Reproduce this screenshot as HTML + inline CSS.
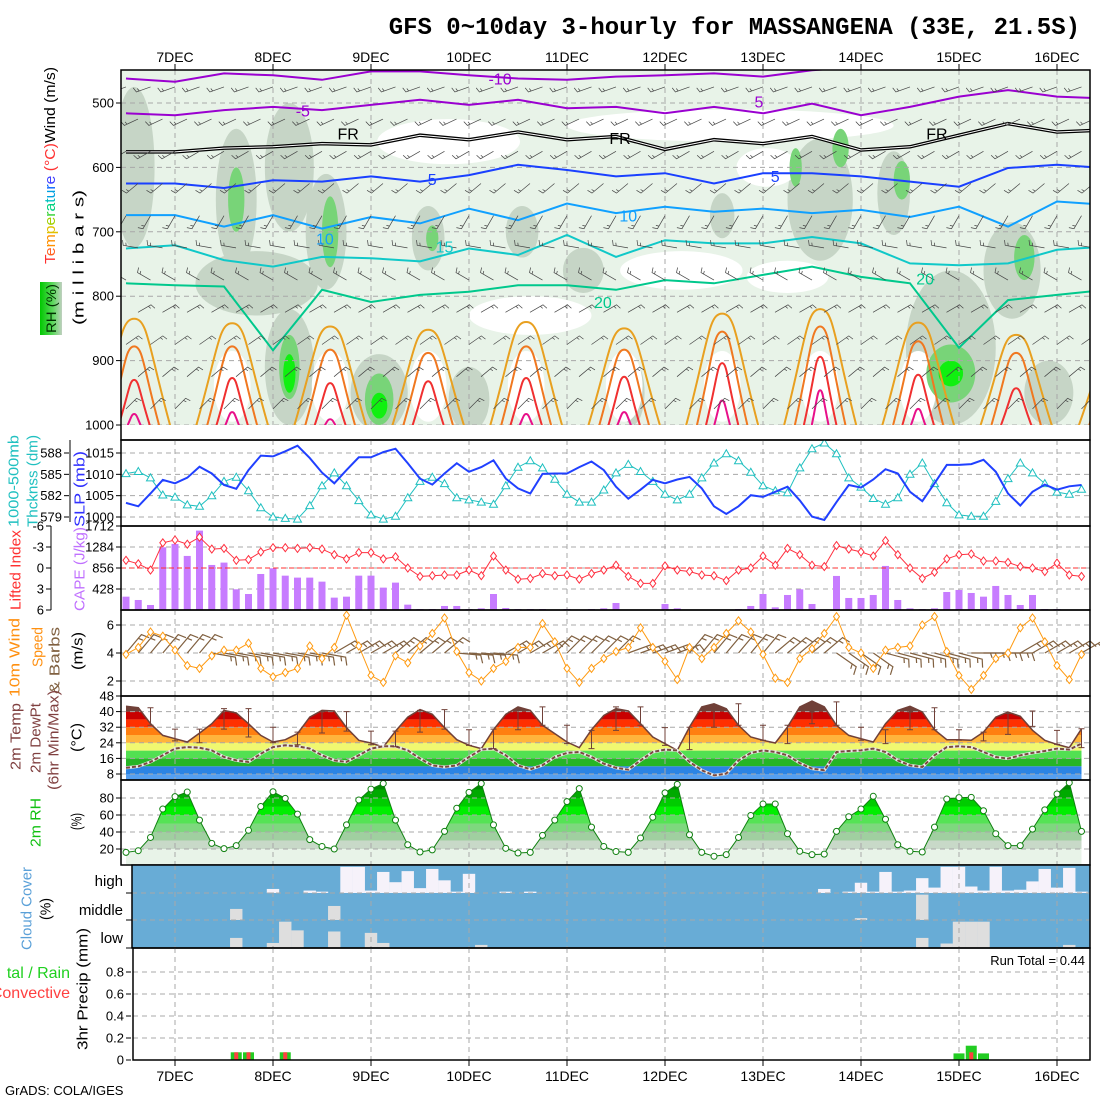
<!DOCTYPE html>
<html><head><meta charset="utf-8"><title>GFS meteogram MASSANGENA</title>
<style>
html,body{margin:0;padding:0;background:#fff;}
svg{display:block;font-family:"Liberation Sans",sans-serif;}
.tk{font-size:13px;fill:#000;}
.dt{font-size:14px;fill:#000;}
</style></head>
<body>
<svg id="chart" width="1100" height="1100" viewBox="0 0 1100 1100" xmlns="http://www.w3.org/2000/svg">
<defs>
<clipPath id="c1"><rect x="121" y="70" width="969" height="355"/></clipPath>
<clipPath id="c2"><rect x="121" y="440" width="969" height="86"/></clipPath>
<clipPath id="c5"><rect x="121" y="696" width="969" height="84"/></clipPath>
<clipPath id="c6"><rect x="121" y="780" width="969" height="85"/></clipPath>
<clipPath id="c7"><rect x="132" y="865" width="958" height="83"/></clipPath>
<linearGradient id="rhg" x1="0" y1="0" x2="1" y2="0"><stop offset="0" stop-color="#00c800"/><stop offset="0.6" stop-color="#60d860"/><stop offset="1" stop-color="#c0d0c0"/></linearGradient>
</defs>
<text x="1080" y="34" text-anchor="end" style="font-family:'Liberation Mono',monospace;font-weight:bold;font-size:24px;">GFS 0~10day 3-hourly for MASSANGENA (33E, 21.5S)</text>

<text transform="translate(50,264) rotate(-90)" dominant-baseline="central" font-size="15" textLength="197" lengthAdjust="spacingAndGlyphs"><tspan fill="#ff3030">T</tspan><tspan fill="#ff6020">e</tspan><tspan fill="#ff9000">m</tspan><tspan fill="#e0c000">p</tspan><tspan fill="#a0d000">e</tspan><tspan fill="#30d030">r</tspan><tspan fill="#00d080">a</tspan><tspan fill="#00c0c0">t</tspan><tspan fill="#00a0e0">u</tspan><tspan fill="#0060ff">r</tspan><tspan fill="#4040ff">e</tspan><tspan fill="#ff3030"> (°C)</tspan><tspan fill="#000">Wind (m/s)</tspan></text>
<text transform="translate(79,325) rotate(-90)" dominant-baseline="central" font-size="15" textLength="135" lengthAdjust="spacingAndGlyphs">(m i l l i b a r s)</text>
<rect x="40" y="282" width="22" height="53" fill="url(#rhg)"/>
<text transform="translate(51,333) rotate(-90)" dominant-baseline="central" font-size="14" fill="#003000" textLength="49" lengthAdjust="spacingAndGlyphs">RH (%)</text>

<text transform="translate(14,527) rotate(-90)" dominant-baseline="central" font-size="15" fill="#20c0c0" textLength="92" lengthAdjust="spacingAndGlyphs">1000-500mb</text>
<text transform="translate(33,527) rotate(-90)" dominant-baseline="central" font-size="15" fill="#20c0c0" textLength="92" lengthAdjust="spacingAndGlyphs">Thcknss (dm)</text>
<text transform="translate(80,527) rotate(-90)" dominant-baseline="central" font-size="15" fill="#3030ff" textLength="76" lengthAdjust="spacingAndGlyphs">SLP (mb)</text>
<text transform="translate(16,610) rotate(-90)" dominant-baseline="central" font-size="15" fill="#ff3030" textLength="80" lengthAdjust="spacingAndGlyphs">Lifted Index</text>
<text transform="translate(80,611) rotate(-90)" dominant-baseline="central" font-size="15" fill="#c070ff" textLength="84" lengthAdjust="spacingAndGlyphs">CAPE (J/kg)</text>
<text transform="translate(15,697) rotate(-90)" dominant-baseline="central" font-size="15" fill="#ff9010" textLength="79" lengthAdjust="spacingAndGlyphs">10m Wind</text>
<text transform="translate(38,667) rotate(-90)" dominant-baseline="central" font-size="15" fill="#ff9010" textLength="40" lengthAdjust="spacingAndGlyphs">Speed</text>
<text transform="translate(55,694) rotate(-90)" dominant-baseline="central" font-size="15" fill="#806040" textLength="67" lengthAdjust="spacingAndGlyphs">&amp; Barbs</text>
<text transform="translate(78,670) rotate(-90)" dominant-baseline="central" font-size="15" textLength="38" lengthAdjust="spacingAndGlyphs">(m/s)</text>
<text transform="translate(16,770) rotate(-90)" dominant-baseline="central" font-size="15" fill="#804040" textLength="67" lengthAdjust="spacingAndGlyphs">2m Temp</text>
<text transform="translate(36,773) rotate(-90)" dominant-baseline="central" font-size="15" fill="#804040" textLength="70" lengthAdjust="spacingAndGlyphs">2m DewPt</text>
<text transform="translate(54,790) rotate(-90)" dominant-baseline="central" font-size="15" fill="#804040" textLength="100" lengthAdjust="spacingAndGlyphs">(6hr Min/Max)</text>
<text transform="translate(77,752) rotate(-90)" dominant-baseline="central" font-size="15" textLength="29" lengthAdjust="spacingAndGlyphs">(°C)</text>
<text transform="translate(36,847) rotate(-90)" dominant-baseline="central" font-size="15" fill="#10c010" textLength="49" lengthAdjust="spacingAndGlyphs">2m RH</text>
<text transform="translate(77,830) rotate(-90)" dominant-baseline="central" font-size="15" textLength="17" lengthAdjust="spacingAndGlyphs">(%)</text>
<text transform="translate(27,950) rotate(-90)" dominant-baseline="central" font-size="15" fill="#5aa0d8" textLength="83" lengthAdjust="spacingAndGlyphs">Cloud Cover</text>
<text transform="translate(46,920) rotate(-90)" dominant-baseline="central" font-size="15" textLength="22" lengthAdjust="spacingAndGlyphs">(%)</text>
<text x="123" y="886" text-anchor="end" font-size="15">high</text>
<text x="123" y="915" text-anchor="end" font-size="15">middle</text>
<text x="123" y="943" text-anchor="end" font-size="15">low</text>
<text x="70" y="978" text-anchor="end" font-size="16" fill="#20d020">tal / Rain</text>
<text x="70" y="998" text-anchor="end" font-size="16" fill="#ff4040">Convective</text>
<text transform="translate(83,1050) rotate(-90)" dominant-baseline="central" font-size="15" textLength="122" lengthAdjust="spacingAndGlyphs">3hr Precip (mm)</text>
<text x="1085" y="965" text-anchor="end" font-size="13">Run Total = 0.44</text>
<text x="5" y="1095" font-size="13">GrADS: COLA/IGES</text>

<g id="layer"></g>
</svg>
<script>
// ---------- data ----------
const slp = [1003.3,1002.5,1005.5,1008.7,1007.9,1009.2,1011.8,1010.2,1007.5,1006.6,1011,1014.4,1014.2,1015.4,1016.7,1013.8,1010.4,1007.9,1011,1014,1014,1015.2,1016,1012.6,1009,1007.6,1010.2,1012.6,1010.6,1011.7,1013.3,1009,1006.7,1005.5,1010.1,
1010.2,1010.2,1011.7,1013,1011,1007.1,1004.3,1006.4,1008.7,1007.9,1008.8,1009.4,1006.7,1002.5,1000.7,1002.5,1005.1,1004.7,1005.9,1007.1,1003.9,1000.1,999.3,1003.5,1007.5,1006.9,1008.8,1011.2,1010.2,1005.9,1003.7,1007.9,1012.2,1012.2,1012.4,1013.4,1010.6,1005.5,1002.7,1005.9,1007.6,1006.4,1007.2,1007.5];
const thickness = [585.1,585.4,584.5,582.1,581.8,580.7,580.5,582,584,584.6,582.7,580.3,579,578.8,578.7,580.6,583.4,585.2,583.4,581.3,579.3,578.7,579.1,581.7,584,584.6,583.7,581.7,581.4,581.1,580.8,583.4,586,586.9,585.9,
584.3,582.2,581.1,581.1,582.8,585.2,586.4,585.4,584,582.2,581.4,582.2,584.5,586.6,587.9,586.9,585.3,583.4,582.7,582.4,585.9,588.6,589.4,587.9,584.5,583.2,581.6,580.8,581.7,585,586.6,583.7,581,579.3,579.1,579.1,581.2,584.4,586.6,585.2,583.7,582.5,582.2,582.9];
const cape = [272,204,102,1278,1346,1102,1618,918,966,422,326,734,850,700,660,660,578,252,272,700,700,456,558,109,20,20,82,82,20,34,326,41,20,20,20,
0,20,0,20,34,143,0,0,0,122,34,0,0,0,0,20,82,326,54,306,422,122,0,694,245,245,306,898,204,34,20,34,367,408,347,272,490,306,102,306,20,20,0,0];
const liftedIndex = [-1.1,-0.6,0.3,-3.6,-4,-3.4,-4.4,-2.7,-2.8,-1.1,-1.2,-2.3,-2.9,-2.9,-2.8,-2.9,-2.7,-1.9,-1.3,-2.2,-2.2,-1.3,-1.6,0,1.2,1.1,1,1,0.3,1.1,-1.7,0.3,1.6,1.5,0.8,
1.1,1,1.6,0.8,0.3,-0.4,1.2,2.2,2.2,-0.3,0.3,0.5,1,1.1,1.8,0.3,0,-1.7,-0.4,-2.8,-1.9,-0.4,-0.2,-3.2,-2.7,-2.3,-1.7,-3.9,-1.9,0,1.5,0.6,-1.3,-1.9,-2,-1,-1,-0.8,-0.2,0,0.5,-0.7,1,1.2];
const windSpeed = [3.9,4.4,5.5,5.2,4.2,3.1,2.9,3.8,4.2,4.2,4.7,2.9,2.3,2.6,2.9,4.5,3.6,4.4,6.7,4.5,2.4,1.9,3.8,3.3,4.5,5.4,6.5,4.1,2.6,2,2.9,3.4,4.4,4.4,6.1,
4.8,2.9,1.9,2.9,3.6,4.1,4.4,5.8,4.4,3.4,2.1,4.4,3.6,4.4,5.4,6.3,5.5,3.9,2.2,1.9,3.6,4.3,5.4,6.6,4.4,4,2.9,4.2,4.4,4.5,6,6.6,4.1,2.4,1.4,2.4,3.6,4,5.8,6.5,4.8,3.1,2.1,3.9];
const windDir = [40,40,40,40,40,40,40,100,100,100,100,100,100,100,100,100,100,60,60,60,60,60,50,50,50,50,50,95,95,95,95,60,60,60,60,
45,45,45,45,45,45,70,70,70,70,70,40,40,40,40,40,40,40,50,50,50,50,50,125,125,125,125,105,105,105,105,105,105,105,90,90,90,90,60,60,60,60,60,60];
const temp2m = [42.7,42,33.8,27.8,26.1,24.4,29,33.8,40.6,39.3,33.8,27.8,24.4,25.6,28.7,37.2,40.6,40.3,31.8,25.3,23.9,21.8,30,37.2,41,38.6,31.8,25.6,22.7,21,30.7,38.6,42.4,40.6,33,
28.7,24.4,21.5,30.7,38,41.5,40.3,33.8,27,23.6,20.1,32.1,42.4,44,41.5,33,27,25.3,23.9,32.1,42.4,45.4,42.4,33,27.8,26.1,24.4,33.8,40.6,42.7,39.8,30.7,25.6,25.6,25.3,29.5,37.2,39.8,37.6,30.4,25.3,23.2,21.5,31.2];
const dew2m = [11.2,11.9,14.2,17.6,21,21.8,21.5,20.1,16.7,15,14.2,18.4,21.8,22.7,22.2,21,17.6,15,14.2,17.6,21,22.2,22.2,20.1,15.9,12.4,11.6,12.4,16.7,20.5,21,17.6,12.4,10.4,12.5,
16.7,18.8,19.3,16.7,13.3,11.2,10.2,15,19.3,20.5,20.1,14.2,9.9,7.3,8.2,15,18.8,20.1,19.3,17.6,13.6,10.7,9.9,19.3,19.8,20.1,21,19.3,15,12.4,11.6,17.6,21.8,22.2,21.8,19.3,16.7,15.9,17.6,18.8,19.8,21,20.5,23.6];
const tMax6 = [42,31,31,41.5,41.5,32,29.5,40,40,30,30,40.6,41,30.7,31,41,42.4,33,30.4,42.4,42.4,31.8,32,41.5,44,33,33,39.8,45,32,30.7,39.8,42,30.7,29.5,39,40.3,30.4,31.2];
const tMin6 = [33,25,24,31,27,24,23,29,30,23,22,29.5,31,22.7,21,30.7,33,23.6,21,30.4,33,22.7,20.5,32,33,25.3,23.6,33.8,33,25.3,23.6,30.7,30.7,25.3,25,28.3,32.4,23.2,21.5];
const rh2m = [16,18,33.6,67,81.6,87,54,26.6,20.4,24,42,70,87.4,79.6,61,31,23,20,48.4,77.7,90.5,97,54,25,16.5,19,40.7,68,86.6,97,48.4,20.8,15.3,16,36,
54,75.7,91,45.7,23,17,16,33,57.4,86,96,36.8,16,11.4,13.4,33.6,59.4,73,73,38,17.3,13.4,14,40.7,58,67,82,55,25,17.3,16.5,45.7,78.8,80.4,80.8,65,38,24,24,43.4,66,84.7,98,40.7];
const cloudHigh = [0,0,0,0,0,0,0,0,0,0, 0,0,15,0,0,9,5,0,97,97, 9,78,40,81,18,89,47,5,71,0, 0,5,0,5,0,0,0,0,0,0, 0,0,0,0,0,0,0,0,0,0, 0,0,0,0,0,0,0,15,0,5, 38,5,78,5,9,55,20,97,97,24, 9,97,9,12,43,89,20,93,5];
const cloudMid = [0,0,0,0,0,0,0,0,0,41, 0,0,0,0,0,0,0,52,0,0, 0,0,0,0,0,0,0,0,0,0, 0,0,0,0,0,0,0,0,0,0, 0,0,0,0,0,0,0,0,0,0, 0,0,0,0,0,0,0,0,0,0, 7,0,0,0,0,94,0,0,0,0, 0,0,0,0,0,0,0,0,0];
const cloudLow = [0,0,0,0,0,0,0,0,0,36, 0,0,18,94,63,0,0,59,0,0, 54,18,0,0,0,0,0,0,0,11, 0,0,0,0,0,0,0,0,0,0, 0,0,0,0,0,0,0,0,0,0, 0,0,0,0,0,0,0,0,0,0, 0,0,0,0,0,36,0,16,94,94, 94,0,0,0,0,0,0,11,0];
const precipTotal = [0,0,0,0,0,0,0,0,0,0.07, 0.07,0,0,0.07,0,0,0,0,0,0, 0,0,0,0,0,0,0,0,0,0, 0,0,0,0,0,0,0,0,0,0, 0,0,0,0,0,0,0,0,0,0, 0,0,0,0,0,0,0,0,0,0, 0,0,0,0,0,0,0,0,0.06,0.13, 0.06,0,0,0,0,0,0,0,0];
const precipConv = [0,0,0,0,0,0,0,0,0,0.07, 0.07,0,0,0.07,0,0,0,0,0,0, 0,0,0,0,0,0,0,0,0,0, 0,0,0,0,0,0,0,0,0,0, 0,0,0,0,0,0,0,0,0,0, 0,0,0,0,0,0,0,0,0,0, 0,0,0,0,0,0,0,0,0,0.07, 0,0,0,0,0,0,0,0,0];
const isoM10 = [462,467,454,457,464,451,451,457,462,464,459,457,454,459,449,444,444,444,444,444,444];
const isoM5 = [516,519,511,506,511,503,495,503,495,508,506,516,506,516,501,519,506,490,480,490,493];
const isoFR = [576,576,570,568,563,565,550,557,545,557,552,572,557,563,552,573,568,550,532,545,542];
const iso5 = [625,625,632,620,622,614,622,612,596,604,614,609,625,609,609,614,622,630,601,596,601];
const iso10 = [674,674,692,674,695,677,687,664,682,656,671,661,669,664,671,666,677,661,692,653,658];
const iso15 = [726,721,744,754,739,741,746,726,736,705,739,713,718,718,708,718,749,752,749,728,723];
const iso20 = [780,783,785,884,790,809,798,793,783,783,790,775,780,767,754,770,780,880,806,798,790];
const iso25Peak = [835,842,847,852,840,850,827,820,841,860,877];
const iso30Peak = [878,878,883,888,878,883,855,847,870,888,883];
const iso35Peak = [930,927,935,932,927,925,904,894,922,943,1000];
const iso40Peak = [983,980,991,1000,983,980,962,946,975,1000,1000];
const rhBlobs = [[-10,600,10,250,1],[15,650,10,220,1],[28,600,12,200,1],[20,780,30,100,1],[28,910,12,180,1],[37,700,10,180,1],[50,950,14,120,1],[62,710,8,100,1],[72,960,10,100,1],[85,700,8,80,1],[100,760,10,70,1],[112,950,6,100,1],[134,675,6,70,1],[158,650,16,190,1],[176,640,8,130,1],[190,880,22,240,1],[205,760,14,150,1],[214,950,12,100,1],
[67,560,35,70,0],[136,535,80,50,0],[87,830,30,60,0],[124,760,30,60,0],[150,770,20,50,0],[145,600,15,60,0],
[14,940,9,110,0],[38,940,9,110,0],[62,940,9,110,0],[86,940,9,110,0],[110,940,9,110,0],[134,940,9,110,0],[158,940,9,110,0],[182,940,9,110,0],
[15,650,4,100,2],[28,910,5,100,2],[38,700,4,110,2],[50,960,7,80,2],[63,710,3,40,2],[152,600,3,60,2],[163,570,4,60,2],[178,620,4,60,2],[190,920,12,90,2],[208,740,5,70,2],
[28,920,3,60,3],[50,970,4,40,3],[190,920,6,40,3]];
const isoLabels = [[79.6,464,'-10','#9a00d0'],[31.3,514,'-5','#9a00d0'],[143,500,'5','#9a00d0'],[42.4,550,'FR','#000'],[109,557,'FR','#000'],[186.6,550,'FR','#000'],[63,620,'5','#1a40ff'],[147,616,'5','#1a40ff'],[36.7,713,'10','#10a0ff'],[111,677,'10','#10a0ff'],[66,725,'15','#10c8c8'],[104.8,811,'20','#00c88c'],[183.7,775,'20','#00c88c']];
const upLevels = [475,525,575,625,675,725,775,825,875,925,975];
const upDirs = [250,245,240,230,210,280,300,60,55,50,45];
const dayLabels = ['7DEC','8DEC','9DEC','10DEC','11DEC','12DEC','13DEC','14DEC','15DEC','16DEC'];

// ---------- axes ----------
const xH = h => 175 + h * 98 / 24;
const xI = i => xH(-12 + 3 * i);
const yP = p => 103 + (p - 500) * 0.644;
const ySLP = v => 517 - (v - 1000) * 64 / 15;
const yThk = v => 517 - (v - 579) * 64 / 9;
const yCape = v => 610 - v * 84 / 1712;
const yLI = v => 568 + v * 7;
const yWs = v => 709 - v * 14;
const yT = v => 789.6 - v * 1.95;
const yRH = v => 866 - v * 0.85;
const yPr = v => 1060 - v * 110;

const NS = 'http://www.w3.org/2000/svg';
const root = document.getElementById('layer');
function mk(parent, tag, attrs) {
  const e = document.createElementNS(NS, tag);
  for (const k in attrs) e.setAttribute(k, attrs[k]);
  parent.appendChild(e);
  return e;
}
function group(name, clip) {
  const g = mk(root, 'g', clip ? {'clip-path': 'url(#' + clip + ')'} : {});
  
  
  return g;
}
function poly(points) { return points.map(p => p[0].toFixed(1) + ',' + p[1].toFixed(1)).join(' '); }
function dayGrid(g, y0, y1) {
  for (let d = 0; d < dayLabels.length; d++) {
    const l = mk(g, 'line', {x1: xH(24 * d), x2: xH(24 * d), y1: y0, y2: y1, stroke: '#a8a8a8', 'stroke-dasharray': '5,4', 'stroke-width': 1});
    
    
  }
}
function hGrid(g, ys, x0) {
  ys.forEach(y => {
    const l = mk(g, 'line', {x1: x0 || 121, x2: 1090, y1: y, y2: y, stroke: '#a8a8a8', 'stroke-dasharray': '5,4', 'stroke-width': 1});
    
    
  });
}
function tickLabels(g, vals, yf, xr, name) {
  vals.forEach(v => {
    const t = mk(g, 'text', {x: xr, y: yf(v), 'text-anchor': 'end', 'dominant-baseline': 'central', class: 'tk'});
    t.textContent = String(v);
    
    
    const tk = mk(g, 'line', {x1: xr + 2, x2: xr + 7, y1: yf(v), y2: yf(v), stroke: '#000'});
    
    
  });
}
function frame(g, x0, y0, x1, y1) {
  const r = mk(g, 'rect', {x: x0, y: y0, width: x1 - x0, height: y1 - y0, fill: 'none', stroke: '#000', 'stroke-width': 1.5});
  
  
}
function barb(g, x, y, dir, len, color, w) {
  const r = dir * Math.PI / 180;
  const ex = x + len * Math.sin(r), ey = y - len * Math.cos(r);
  const fr = r + Math.PI / 2.5, fl = len * 0.35;
  let d = 'M' + x.toFixed(1) + ' ' + y.toFixed(1) + 'L' + ex.toFixed(1) + ' ' + ey.toFixed(1);
  d += 'l' + (fl * Math.sin(fr)).toFixed(1) + ' ' + (-fl * Math.cos(fr)).toFixed(1);
  const mx = x + len * 0.8 * Math.sin(r), my = y - len * 0.8 * Math.cos(r);
  d += 'M' + mx.toFixed(1) + ' ' + my.toFixed(1) + 'l' + (fl * 0.6 * Math.sin(fr)).toFixed(1) + ' ' + (-fl * 0.6 * Math.cos(fr)).toFixed(1);
  const p = mk(g, 'path', {d: d, stroke: color, 'stroke-width': w, fill: 'none'});
  
  
}

// ---------- date labels ----------
const gd = group('date-axis');
dayLabels.forEach((s, d) => {
  [57, 1076].forEach(y => {
    const t = mk(gd, 'text', {x: xH(24 * d), y: y, 'text-anchor': 'middle', 'dominant-baseline': 'central', class: 'dt'});
    t.textContent = s;
    
    
  });
  const t1 = mk(gd, 'line', {x1: xH(24 * d), x2: xH(24 * d), y1: 64, y2: 70, stroke: '#000'});
  
  
  const t2 = mk(gd, 'line', {x1: xH(24 * d), x2: xH(24 * d), y1: 1060, y2: 1066, stroke: '#000'});
  
  
});

// ---------- panel 1 ----------
const g1 = group('upper-air-panel', 'c1');
const bg1 = mk(g1, 'rect', {x: 121, y: 70, width: 969, height: 355, fill: '#e8f3e8'});


const blobCol = ['#ffffff', '#c6d5c6', '#78d478', '#10f010'];
rhBlobs.forEach(b => {
  const e = mk(g1, 'ellipse', {cx: xH(b[0]), cy: yP(b[1]), rx: b[2] * 98 / 48, ry: b[3] * 0.644 / 2, fill: blobCol[b[4]]});
  
  
});
dayGrid(g1, 70, 425);
hGrid(g1, [500, 600, 700, 800, 900, 1000].map(yP));
function isoLine(arr, color, name, dbl) {
  const pts = arr.map((p, k) => [xH(-12 + 12 * k), yP(p)]);
  if (dbl) {
    const o = mk(g1, 'polyline', {points: poly(pts), fill: 'none', stroke: '#000', 'stroke-width': 3.5});
    
    
    const inn = mk(g1, 'polyline', {points: poly(pts), fill: 'none', stroke: '#fff', 'stroke-width': 1});
    
    
  } else {
    const l = mk(g1, 'polyline', {points: poly(pts), fill: 'none', stroke: color, 'stroke-width': 2});
    
    
  }
}
isoLine(isoM10, '#9a00d0', 'isotherm-minus10');
isoLine(isoM5, '#9a00d0', 'isotherm-minus5');
isoLine(isoFR, '#000', 'freezing-level', true);
isoLine(iso5, '#1a40ff', 'isotherm-5');
isoLine(iso10, '#10a0ff', 'isotherm-10');
isoLine(iso15, '#10c8c8', 'isotherm-15');
isoLine(iso20, '#00c88c', 'isotherm-20');
function isoArches(arr, color, hw, tw, name) {
  arr.forEach((p, d) => {
    if (p >= 1000) return;
    const x = xH(14 + 24 * (d - 1)), yp = yP(p), yb = yP(1012);
    const ym = yp + (yb - yp) * 0.25;
    const dd = 'M' + (x - hw) + ' ' + yb + ' C' + (x - tw) + ' ' + ym + ',' + (x - tw) + ' ' + yp + ',' + x + ' ' + yp +
      ' C' + (x + tw) + ' ' + yp + ',' + (x + tw) + ' ' + ym + ',' + (x + hw) + ' ' + yb;
    const e = mk(g1, 'path', {d: dd, fill: 'none', stroke: color, 'stroke-width': 2});
    
    
  });
}
isoArches(iso25Peak, '#e8a020', 38, 14, 'isotherm-25');
isoArches(iso30Peak, '#f07820', 27, 9, 'isotherm-30');
isoArches(iso35Peak, '#f03030', 18, 5, 'isotherm-35');
isoArches(iso40Peak, '#e8108a', 10, 3, 'isotherm-40');
for (let i = 0; i < 79; i += 2) {
  upLevels.forEach((p, j) => {
    barb(g1, xI(i) + ((j % 2) ? 12 : 0), yP(p), upDirs[j], 15, '#444', 0.7);
  });
}
isoLabels.forEach(l => {
  const t = mk(g1, 'text', {x: xH(l[0]), y: yP(l[1]), 'text-anchor': 'middle', 'dominant-baseline': 'central', 'font-size': 16, fill: l[3]});
  t.textContent = l[2];
  
  
});
const ga1 = group('pressure-axis');
tickLabels(ga1, [500, 600, 700, 800, 900, 1000], yP, 114, 'pressure-tick-label');
frame(ga1, 121, 70, 1090, 440);

// ---------- panel 2 ----------
const g2 = group('slp-thickness-panel', 'c2');
dayGrid(g2, 440, 526);
hGrid(g2, [1015, 1010, 1005, 1000].map(ySLP));
const thk = mk(g2, 'polyline', {points: poly(thickness.map((v, i) => [xI(i), yThk(v)])), fill: 'none', stroke: '#20c0c0', 'stroke-width': 1});


thickness.forEach((v, i) => {
  const x = xI(i), y = yThk(v);
  const m = mk(g2, 'polygon', {points: poly([[x, y - 4], [x - 4, y + 3], [x + 4, y + 3]]), fill: '#fff', stroke: '#20c0c0', 'stroke-width': 1});
  
  
});
const sl = mk(g2, 'polyline', {points: poly(slp.map((v, i) => [xI(i), ySLP(v)])), fill: 'none', stroke: '#2040ff', 'stroke-width': 2});


const ga2 = group('slp-axes');
tickLabels(ga2, [588, 585, 582, 579], yThk, 62, 'thickness-tick-label');
tickLabels(ga2, [1015, 1010, 1005, 1000], ySLP, 114, 'slp-tick-label');
const ax2 = mk(ga2, 'line', {x1: 70, x2: 70, y1: 440, y2: 522, stroke: '#000'});


frame(ga2, 121, 440, 1090, 526);

// ---------- panel 3 ----------
const g3 = group('cape-li-panel');
dayGrid(g3, 526, 610);
hGrid(g3, [1284, 856, 428].map(yCape));
cape.forEach((v, i) => {
  if (v <= 0) return;
  const r = mk(g3, 'rect', {x: xI(i) - 3.5, y: yCape(v), width: 7, height: 610 - yCape(v), fill: '#c77cff'});
  
  
});
const zl = mk(g3, 'line', {x1: 121, x2: 1090, y1: yLI(0), y2: yLI(0), stroke: '#ff3030', 'stroke-dasharray': '5,3'});


const li = mk(g3, 'polyline', {points: poly(liftedIndex.map((v, i) => [xI(i), yLI(v)])), fill: 'none', stroke: '#ff3040', 'stroke-width': 1});


liftedIndex.forEach((v, i) => {
  const x = xI(i), y = yLI(v);
  const m = mk(g3, 'polygon', {points: poly([[x, y - 4], [x + 3, y], [x, y + 4], [x - 3, y]]), fill: '#fff', stroke: '#ff3040'});
  
  
});
tickLabels(g3, [-6, -3, 0, 3, 6], yLI, 44, 'li-tick-label');
tickLabels(g3, [1712, 1284, 856, 428], yCape, 114, 'cape-tick-label');
const ax3 = mk(g3, 'line', {x1: 51, x2: 51, y1: 526, y2: 610, stroke: '#000'});


frame(g3, 121, 526, 1090, 610);

// ---------- panel 4 ----------
const g4 = group('wind-panel');
dayGrid(g4, 610, 696);
hGrid(g4, [6, 4, 2].map(yWs));
windDir.forEach((d, i) => barb(g4, xI(i), yWs(4), d, 24, '#806040', 1.2));
const ws = mk(g4, 'polyline', {points: poly(windSpeed.map((v, i) => [xI(i), yWs(v)])), fill: 'none', stroke: '#ff9a10', 'stroke-width': 1});


windSpeed.forEach((v, i) => {
  const x = xI(i), y = yWs(v);
  const m = mk(g4, 'polygon', {points: poly([[x, y - 4], [x + 3, y], [x, y + 4], [x - 3, y]]), fill: '#fff', stroke: '#ff9a10'});
  
  
});
tickLabels(g4, [6, 4, 2], yWs, 114, 'wind-tick-label');
frame(g4, 121, 610, 1090, 696);

// ---------- panel 5 ----------
const g5 = group('temperature-panel', 'c5');
const tArea = [[xI(0), 780]].concat(temp2m.map((v, i) => [xI(i), yT(v)])).concat([[xI(temp2m.length - 1), 780]]);
const cp = mk(root, 'clipPath', {id: 'tclip'});
const cpp = mk(cp, 'polygon', {points: poly(tArea)});


const tBands = [[-10, 8, '#559ff0'], [8, 12, '#2b84e4'], [12, 16, '#26b526'], [16, 20, '#52e052'], [20, 24, '#f0f870'], [24, 28, '#ffb43c'], [28, 32, '#ff7f10'], [32, 36, '#ff3000'], [36, 40, '#c80000'], [40, 60, '#704038']];
const tb = mk(g5, 'g', {'clip-path': 'url(#tclip)'});


tBands.forEach(b => {
  const r = mk(tb, 'rect', {x: 121, y: yT(b[1]), width: 969, height: yT(b[0]) - yT(b[1]), fill: b[2]});
  
  
});
dayGrid(g5, 696, 780);
hGrid(g5, [48, 40, 32, 24, 16, 8].map(yT));
const tl = mk(g5, 'polyline', {points: poly(temp2m.map((v, i) => [xI(i), yT(v)])), fill: 'none', stroke: '#704038', 'stroke-width': 1.5});


const dpPts = poly(dew2m.map((v, i) => [xI(i), yT(v)]));
const dw = mk(g5, 'polyline', {points: dpPts, fill: 'none', stroke: '#e8e8e8', 'stroke-width': 3});


const dl = mk(g5, 'polyline', {points: dpPts, fill: 'none', stroke: '#7a4a40', 'stroke-width': 2, 'stroke-dasharray': '4,2'});


tMax6.forEach((hi, k) => {
  const x = xI(2 + 2 * k), lo = tMin6[k];
  const e = mk(g5, 'path', {d: 'M' + x + ' ' + yT(hi) + 'V' + yT(lo) + 'M' + (x - 3) + ' ' + yT(hi) + 'h6M' + (x - 3) + ' ' + yT(lo) + 'h6', stroke: '#704038', 'stroke-width': 1, fill: 'none'});
  
  
});
const ga5 = group('temperature-axis');
tickLabels(ga5, [48, 40, 32, 24, 16, 8], yT, 114, 'temp-tick-label');
frame(ga5, 121, 696, 1090, 780);

// ---------- panel 6 ----------
const g6 = group('rh-panel', 'c6');
const rhArea = [[xI(0), 866]].concat(rh2m.map((v, i) => [xI(i), yRH(v)])).concat([[xI(rh2m.length - 1), 866]]);
const cp2 = mk(root, 'clipPath', {id: 'rhclip'});
const cpp2 = mk(cp2, 'polygon', {points: poly(rhArea)});


const rhBands = [[0, 20, '#e8f3e8'], [20, 30, '#c8d9c8'], [30, 40, '#a0cfa0'], [40, 50, '#7ed87e'], [50, 60, '#55e355'], [60, 70, '#00ee00'], [70, 80, '#00cc00'], [80, 90, '#00aa00'], [90, 110, '#008800']];
const rb = mk(g6, 'g', {'clip-path': 'url(#rhclip)'});


rhBands.forEach(b => {
  const r = mk(rb, 'rect', {x: 121, y: yRH(b[1]), width: 969, height: yRH(b[0]) - yRH(b[1]), fill: b[2]});
  
  
});
dayGrid(g6, 780, 865);
hGrid(g6, [80, 60, 40, 20].map(yRH));
const rl = mk(g6, 'polyline', {points: poly(rh2m.map((v, i) => [xI(i), yRH(v)])), fill: 'none', stroke: '#108010', 'stroke-width': 1});


rh2m.forEach((v, i) => {
  const c = mk(g6, 'circle', {cx: xI(i), cy: yRH(v), r: 3, fill: '#fff', stroke: '#108010'});
  
  
});
const ga6 = group('rh-axis');
tickLabels(ga6, [80, 60, 40, 20], yRH, 114, 'rh-tick-label');
frame(ga6, 121, 780, 1090, 865);

// ---------- panel 7 ----------
const g7 = group('cloud-panel', 'c7');
const cbg = mk(g7, 'rect', {x: 132, y: 865, width: 958, height: 83, fill: '#68acd6'});


function cloudBars(arr, base, hgt, color, name) {
  arr.forEach((v, i) => {
    if (v <= 0) return;
    const r = mk(g7, 'rect', {x: xI(i) - 6.2, y: base - hgt * v / 100, width: 12.4, height: hgt * v / 100, fill: color});
    
    
  });
}
cloudBars(cloudHigh, 893, 27, '#f6f2fa', 'high-cloud-bar');
cloudBars(cloudMid, 920, 27, '#dedede', 'middle-cloud-bar');
cloudBars(cloudLow, 948, 28, '#dedede', 'low-cloud-bar');
dayGrid(g7, 865, 948);
hGrid(g7, [893, 920], 132);
const ga7 = group('cloud-axis');
[893, 920, 948].forEach(y => {
  const l = mk(ga7, 'line', {x1: 126, x2: 132, y1: y, y2: y, stroke: '#000'});
  
  
});
frame(ga7, 132, 865, 1090, 948);

// ---------- panel 8 ----------
const g8 = group('precip-panel');
dayGrid(g8, 948, 1060);
hGrid(g8, [0.2, 0.4, 0.6, 0.8].map(yPr), 133);
precipTotal.forEach((v, i) => {
  if (v <= 0) return;
  const r = mk(g8, 'rect', {x: xI(i) - 5.5, y: yPr(v), width: 11, height: 1060 - yPr(v), fill: '#22cc22'});
  
  
});
precipConv.forEach((v, i) => {
  if (v <= 0) return;
  const r = mk(g8, 'rect', {x: xI(i) - 2, y: yPr(v), width: 4, height: 1060 - yPr(v), fill: '#ff4040'});
  
  
});
tickLabels(g8, [0, 0.2, 0.4, 0.6, 0.8], yPr, 124, 'precip-tick-label');
frame(g8, 133, 948, 1090, 1060);
</script>
</body></html>
